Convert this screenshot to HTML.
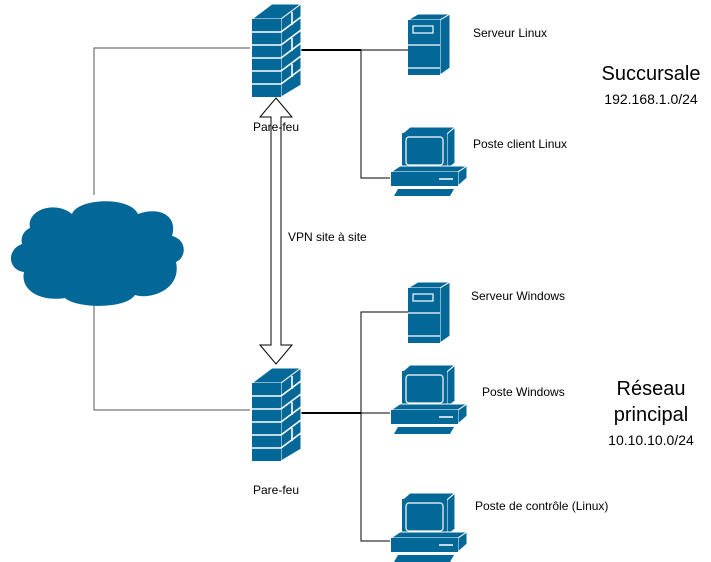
<!DOCTYPE html>
<html><head><meta charset="utf-8"><style>
html,body{margin:0;padding:0;background:#fff;}
svg{display:block;}
text{font-family:"Liberation Sans",Arial,sans-serif;fill:#000;}
</style></head><body>
<svg width="711" height="562" viewBox="0 0 711 562" xmlns="http://www.w3.org/2000/svg">
<defs>
<g id="fw">
  <polygon points="0,17 29,17 49,2 20,2" fill="#036897" stroke="#fff" stroke-width="1"/>
  <polygon points="29,17 49,2 49,83 29,95" fill="#036897" stroke="#fff" stroke-width="1"/>
  <rect x="0" y="17" width="29" height="78" fill="#036897"/>
  <g stroke="#fff" stroke-width="1.6">
    <line x1="0" y1="30" x2="29" y2="30"/><line x1="0" y1="43" x2="29" y2="43"/>
    <line x1="0" y1="56" x2="29" y2="56"/><line x1="0" y1="69" x2="29" y2="69"/>
    <line x1="0" y1="82" x2="29" y2="82"/>
    <line x1="29" y1="30" x2="49" y2="15"/><line x1="29" y1="43" x2="49" y2="28"/>
    <line x1="29" y1="56" x2="49" y2="41"/><line x1="29" y1="69" x2="49" y2="54"/>
    <line x1="29" y1="82" x2="49" y2="67"/>
    <line x1="40" y1="10" x2="40" y2="23"/><line x1="40" y1="36" x2="40" y2="49"/>
    <line x1="40" y1="62" x2="40" y2="75"/>
  </g>
</g>
<g id="srv">
  <polygon points="0,6 32,6 42,0 10,0" fill="#036897" stroke="#fff" stroke-width="1"/>
  <polygon points="32,6 42,0 42,54 32,61" fill="#036897" stroke="#fff" stroke-width="1"/>
  <rect x="0" y="6" width="32" height="55" fill="#036897"/>
  <rect x="5" y="12" width="20" height="7" fill="none" stroke="#fff" stroke-width="1.2"/>
  <line x1="0" y1="31" x2="32" y2="31" stroke="#fff" stroke-width="1.2"/>
  <line x1="0" y1="54" x2="32" y2="54" stroke="#fff" stroke-width="1.2"/>
</g>
<g id="pc">
  <polygon points="12,8 57,8 65,1 20,1" fill="#036897" stroke="#fff" stroke-width="1"/>
  <polygon points="57,8 65,1 65,37 57,43" fill="#036897" stroke="#fff" stroke-width="1"/>
  <rect x="12" y="7" width="45" height="36" fill="#036897"/>
  <rect x="16" y="11" width="37" height="28" rx="3" fill="none" stroke="#fff" stroke-width="1.2"/>
  <polygon points="1,46 68,46 77,40 10,40" fill="#036897" stroke="#fff" stroke-width="1"/>
  <polygon points="68,46 77,40 77,52 68,60" fill="#036897" stroke="#fff" stroke-width="1"/>
  <rect x="1" y="46" width="67" height="14" fill="#036897"/>
  <line x1="49" y1="53" x2="63" y2="53" stroke="#fff" stroke-width="1.5"/>
  <polygon points="4,70 60,70 64,63 8,63" fill="#036897"/>
</g>
</defs>

<g stroke="#000" stroke-width="1" fill="none">
  <polyline points="250,48 94,48 94,195" stroke="#555"/>
  <polyline points="94,305 94,410 250,410" stroke="#555"/>
  <line x1="301" y1="50" x2="361" y2="50" stroke-width="2"/>
  <line x1="361" y1="50" x2="408" y2="50"/>
  <polyline points="361,50 361,178 390,178"/>
  <line x1="301" y1="413" x2="361" y2="413" stroke-width="2"/>
  <line x1="361" y1="413" x2="390" y2="413"/>
  <polyline points="408,312 361,312 361,541 390,541"/>
</g>

<polygon points="276,98 292,117 281,117 281,345 292,345 276,364 260,345 271,345 271,117 260,117" fill="#fff" stroke="#000" stroke-width="1"/>

<path d="M30,228 C26,210 55,200 72,214 C78,198 130,196 138,214 C160,206 178,216 172,236 C188,240 186,258 176,262 C182,290 150,300 135,295 C125,310 75,308 65,298 C40,302 20,290 24,272 C8,270 6,250 22,244 C20,236 25,230 30,228 Z" fill="#036897"/>

<use href="#fw" x="252" y="2"/>
<use href="#fw" x="252" y="366"/>
<use href="#srv" x="408" y="14"/>
<use href="#srv" x="408" y="282"/>
<use href="#pc" x="390" y="126"/>
<use href="#pc" x="390" y="364"/>
<use href="#pc" x="390" y="492"/>

<text x="276" y="131" font-size="12" text-anchor="middle">Pare-feu</text>
<text x="276" y="494" font-size="12" text-anchor="middle">Pare-feu</text>
<text x="288" y="241" font-size="12">VPN site à site</text>
<text x="473" y="37" font-size="12">Serveur Linux</text>
<text x="473" y="148" font-size="12">Poste client Linux</text>
<text x="471" y="300" font-size="12">Serveur Windows</text>
<text x="482" y="396" font-size="12">Poste Windows</text>
<text x="475" y="510" font-size="12">Poste de contrôle (Linux)</text>
<text x="651" y="80" font-size="20" text-anchor="middle">Succursale</text>
<text x="651" y="104" font-size="14" text-anchor="middle">192.168.1.0/24</text>
<text x="651" y="395" font-size="20" text-anchor="middle">Réseau</text>
<text x="651" y="421" font-size="20" text-anchor="middle">principal</text>
<text x="651" y="445" font-size="14" text-anchor="middle">10.10.10.0/24</text>
</svg>
</body></html>
